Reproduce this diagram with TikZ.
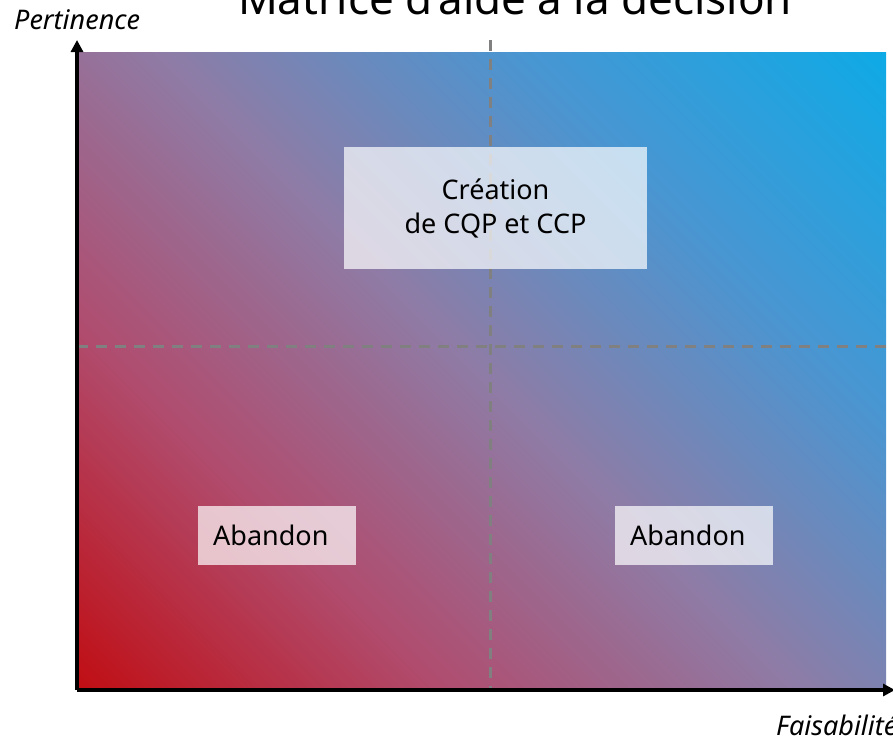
\documentclass[tikz,border=0pt]{standalone}
\usepackage{fontspec}
\setmainfont{Noto Sans}
\usepackage{xcolor}
\usetikzlibrary{positioning, arrows.meta}

\definecolor{lowred}{RGB}{192,14,20}
\definecolor{rampA}{RGB}{176,76,110}
\definecolor{rampB}{RGB}{142,124,166}
\definecolor{rampC}{RGB}{72,150,210}
\definecolor{highblue}{RGB}{14,170,230}
\definecolor{gridgray}{RGB}{128,128,128}

% diagonal ramp, stops placed for a 45 degree fit over the plot area
\pgfdeclarehorizontalshading{diagramp}{100bp}{color(0bp)=(lowred); color(14.64bp)=(lowred);
    color(32.32bp)=(rampA); color(50bp)=(rampB); color(67.68bp)=(rampC);
    color(85.36bp)=(highblue); color(100bp)=(highblue)}

\begin{document}
\begin{tikzpicture}[x=1pt, y=-1pt,
    quadrant/.style={rectangle, fill=white, fill opacity=0.7, text opacity=1, inner sep=0pt, font=\fontsize{27}{34}\selectfont},
    axislabel/.style={inner sep=0pt, font=\itshape\fontsize{27}{32}\selectfont},
    axis/.style={-{Triangle[length=12pt, width=12pt]}, line width=3.5pt},
    divider/.style={gridgray, line width=3.2pt, dash pattern=on 11pt off 8pt}
]
    \useasboundingbox (0,0) rectangle (893,737);

    % plot area
    \coordinate (origin) at (77,690);
    \coordinate (plotne) at (886,52);
    \shade[shading=diagramp, shading angle=45] (origin) rectangle (plotne);

    % quadrant dividers
    \coordinate (vtop) at (490.5,40);
    \coordinate (vbot) at (490.5,690);
    \coordinate (hleft) at (77,346.5);
    \coordinate (hright) at (886,346.5);
    \draw[divider] (vtop) -- (vbot);
    \draw[divider] (hleft) -- (hright);

    % boxes
    \node[quadrant, minimum width=303pt, minimum height=122pt, inner ysep=0pt, align=center] (create) at (495.5,208) {Création\\de CQP et CCP};
    \node[quadrant, anchor=north west, minimum height=59pt, text width=128pt, inner xsep=15pt, align=left] (dropleft) at (198,506) {Abandon};
    \node[quadrant, anchor=north west, minimum height=59pt, text width=128pt, inner xsep=15pt, align=left] (dropright) at (615,506) {Abandon};

    % axes
    \coordinate (ytop) at (77,40);
    \coordinate (xend) at (895,690);
    \draw[axis] (origin) -- (ytop);
    \draw[axis] (origin) -- (xend);

    % labels
    \node[axislabel, anchor=base west] (ylabel) at (14,29) {Pertinence};
    \node[axislabel, anchor=base west] (xlabel) at (776,735) {Faisabilité};
    \node[inner sep=0pt, anchor=base, font=\fontsize{44}{52}\selectfont] (title) at (515,14) {Matrice d'aide à la décision};
\end{tikzpicture}
\end{document}
